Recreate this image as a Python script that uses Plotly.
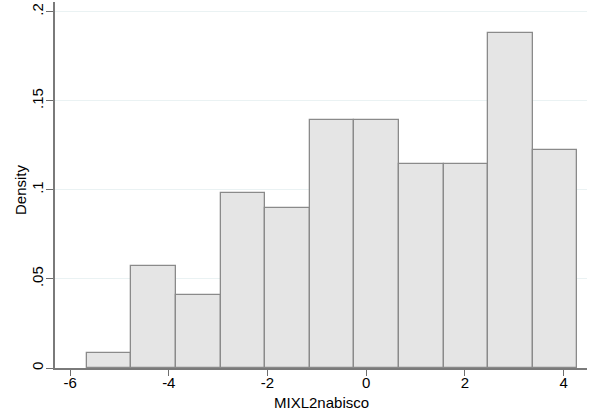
import plotly.graph_objects as go

# Histogram bins
bin_start = -5.66
bin_width = 0.9036
densities = [0.0082, 0.0572, 0.0409, 0.0981, 0.0899, 0.1390, 0.1390, 0.1144, 0.1144, 0.1880, 0.1226]

x_ticks = [-6, -4, -2, 0, 2, 4]
x_ticktext = ["-6", "-4", "-2", "0", "2", "4"]
y_ticks = [0, 0.05, 0.1, 0.15, 0.2]
y_ticktext = ["0", ".05", ".1", ".15", ".2"]
x_title = "MIXL2nabisco"
y_title = "Density"

centers = [bin_start + bin_width * (i + 0.5) for i in range(len(densities))]

FONT = "Liberation Sans, Arial, Helvetica, sans-serif"
W, H = 593, 416
ML, MR, MT, MB = 55, 6, 2, 48

fig = go.Figure()
fig.add_trace(go.Bar(
    x=centers,
    y=densities,
    width=[bin_width] * len(densities),
    marker=dict(color="#e5e5e5", line=dict(color="#8a8a8a", width=1.3)),
    hoverinfo="x+y",
))

fig.update_layout(
    width=W,
    height=H,
    margin=dict(l=ML, r=MR, t=MT, b=MB, autoexpand=False),
    paper_bgcolor="white",
    plot_bgcolor="white",
    showlegend=False,
    bargap=0,
    font=dict(family=FONT, size=15, color="#000000"),
    xaxis=dict(
        range=[-6.306, 4.474],
        tickvals=x_ticks,
        ticktext=x_ticktext,
        ticks="outside",
        ticklen=6,
        tickwidth=1.3,
        tickcolor="#6e6e6e",
        showline=True,
        linecolor="#7a7a7a",
        linewidth=1.5,
        showgrid=False,
        zeroline=False,
        automargin=False,
        ticklabelstandoff=-6,
        tickfont=dict(size=15),
    ),
    yaxis=dict(
        range=[0, 0.2054],
        tickvals=y_ticks,
        ticktext=y_ticktext,
        tickangle=-90,
        ticks="outside",
        ticklen=7,
        tickwidth=1.3,
        tickcolor="#6e6e6e",
        showline=True,
        linecolor="#7a7a7a",
        linewidth=1.5,
        showgrid=True,
        gridcolor="#eaf2f3",
        gridwidth=1,
        zeroline=False,
        automargin=False,
        ticklabelstandoff=-3,
        tickfont=dict(size=15),
    ),
)

# Axis titles placed as annotations in pixel-derived paper coordinates
plot_w = W - ML - MR
plot_h = H - MT - MB
fig.add_annotation(
    text=x_title, xref="paper", yref="paper",
    x=0.5, y=-(402 - (H - MB)) / plot_h,
    xanchor="center", yanchor="middle", showarrow=False,
    font=dict(size=15, family=FONT),
)
fig.add_annotation(
    text=y_title, xref="paper", yref="paper",
    x=-(ML - 20) / plot_w, y=(H - MB - 190) / plot_h,
    xanchor="center", yanchor="middle", showarrow=False, textangle=-90,
    font=dict(size=15, family=FONT),
)

fig.write_html(
    "out.html",
    config={"displayModeBar": False},
    post_script="document.body.style.margin='0';document.body.style.padding='0';",
)
